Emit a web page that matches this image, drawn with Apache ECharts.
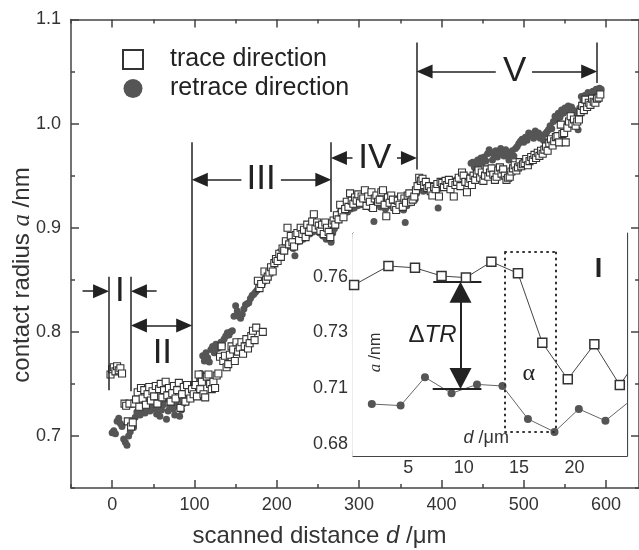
<!DOCTYPE html>
<html>
<head>
<meta charset="utf-8">
<script src="https://cdn.jsdelivr.net/npm/echarts@6/dist/echarts.min.js"></script>
<style>
  html, body { margin: 0; padding: 0; background: #fff; }
  #main { width: 639px; height: 550px; }
</style>
</head>
<body>
<div id="main"></div>
<script>
// main plot: contact radius vs scanned distance, [d (um), a (nm)]
var traceMain = [
  [-2,0.759],[0,0.764],[2,0.766],[4,0.762],[6,0.767],[8,0.763],[10,0.765],[12,0.760],
  [15,0.731],[17,0.729],[19,0.714],[21,0.731],[23,0.709],[25,0.713],[27,0.731],
  [29,0.735],[31,0.742],[33,0.728],[35,0.746],[37,0.736],[39,0.744],[41,0.730],[43,0.740],[45,0.747],[47,0.734],
  [49,0.743],[51,0.738],[53,0.748],[55,0.731],[57,0.745],[59,0.750],[61,0.737],[63,0.744],[65,0.752],[67,0.739],
  [69,0.746],[71,0.733],[73,0.741],[75,0.748],[77,0.736],[79,0.744],[81,0.751],[83,0.727],[85,0.740],[87,0.747],
  [89,0.733],[91,0.749],[93,0.742],[95,0.736],[97,0.745],[99,0.740],
  [101,0.749],[103,0.738],[105,0.759],[107,0.745],[109,0.752],[111,0.740],[113,0.737],[115,0.757],[117,0.759],
  [119,0.750],[121,0.745],[123,0.752],[125,0.746],[127,0.758],[129,0.760],[131,0.776],[133,0.786],[135,0.772],
  [137,0.777],[139,0.766],[141,0.769],[143,0.778],[145,0.786],[147,0.783],[149,0.772],[151,0.790],[153,0.781],
  [155,0.785],[157,0.790],[159,0.779],[161,0.786],[163,0.793],[165,0.784],[167,0.789],[169,0.796],[171,0.801],
  [173,0.792],[175,0.804],[177,0.849],[179,0.842],[181,0.846],[183,0.800],[185,0.858],[187,0.850],[189,0.853],
  [191,0.857],[193,0.862],[195,0.858],[197,0.866],[199,0.870],[201,0.868],[203,0.875],[205,0.872],[207,0.880],
  [209,0.878],[211,0.887],[213,0.900],[215,0.884],[217,0.892],[219,0.886],[221,0.882],[223,0.893],[225,0.895],
  [227,0.888],[229,0.900],[231,0.894],[233,0.898],[235,0.891],[237,0.903],[239,0.896],[241,0.900],[243,0.906],
  [245,0.913],[247,0.899],[249,0.905],[251,0.902],[253,0.897],[255,0.903],[257,0.894],[259,0.905],[261,0.900],
  [263,0.896],[265,0.891],[267,0.904],[269,0.907],[271,0.903],[273,0.912],[275,0.908],[277,0.922],[279,0.915],
  [281,0.910],[283,0.918],[285,0.925],[287,0.920],[289,0.933],[291,0.926],[293,0.923],[295,0.929],[297,0.926],
  [299,0.932],[301,0.924],[303,0.930],[305,0.928],[307,0.936],[309,0.921],[311,0.930],[313,0.925],[315,0.934],
  [317,0.919],[319,0.928],[321,0.931],[323,0.925],[325,0.927],[327,0.934],[329,0.936],[331,0.922],[333,0.911],
  [335,0.929],[337,0.924],[339,0.931],[341,0.927],[343,0.920],[345,0.917],[347,0.926],[349,0.922],[351,0.930],
  [353,0.920],[355,0.928],[357,0.924],[359,0.931],[361,0.933],[363,0.925],[365,0.927],[367,0.930],[369,0.936],
  [371,0.940],[373,0.948],[375,0.945],[377,0.947],[379,0.941],[381,0.944],[383,0.938],[385,0.940],[387,0.935],
  [389,0.931],[391,0.939],[393,0.937],[395,0.942],[397,0.930],[399,0.944],[401,0.943],[403,0.939],[405,0.945],
  [407,0.941],[409,0.946],[411,0.937],[413,0.943],[415,0.930],[417,0.941],[419,0.944],[421,0.948],[423,0.940],
  [425,0.953],[427,0.950],[429,0.944],[431,0.934],[433,0.943],[435,0.947],[437,0.941],[439,0.950],
  [441,0.946],[443,0.952],[445,0.955],[447,0.948],[449,0.953],[451,0.945],[453,0.950],[455,0.956],[457,0.949],
  [459,0.953],[461,0.957],[463,0.951],[465,0.946],[467,0.949],[469,0.955],[471,0.958],[473,0.952],[475,0.956],
  [477,0.950],[479,0.946],[481,0.948],[483,0.949],[485,0.954],[487,0.957],[489,0.960],[491,0.955],[493,0.958],
  [495,0.963],[497,0.959],[499,0.961],[501,0.962],[503,0.966],[505,0.960],[507,0.964],[509,0.968],[511,0.965],
  [513,0.970],[515,0.967],[517,0.972],[519,0.969],[521,0.974],[523,0.971],[525,0.975],[527,0.978],[529,0.974],
  [531,0.981],[533,0.985],[535,0.979],[537,0.983],[539,0.987],[541,0.988],[543,0.982],[545,0.999],[547,0.990],
  [549,0.991],[551,0.982],[553,0.996],[555,1.002],[557,1.007],[559,1.000],[561,1.004],[563,0.998],[565,1.002],
  [567,1.004],[569,1.011],[571,1.017],[573,1.013],[575,1.023],[577,1.016],[579,1.020],[581,1.018],[583,1.024],
  [585,1.021],[587,1.020],[589,1.024],[591,1.025],[593,1.028]
];
var retraceMain = [
  [0,0.703],[2,0.705],[4,0.702],[6,0.714],[8,0.717],[10,0.712],[12,0.709],[14,0.697],[16,0.694],[18,0.691],
  [20,0.700],[22,0.704],[24,0.712],[26,0.708],
  [28,0.718],[30,0.723],[32,0.727],[34,0.720],[36,0.725],[38,0.730],[40,0.722],[42,0.727],[44,0.733],[46,0.724],
  [48,0.729],[50,0.732],[52,0.726],[54,0.721],[56,0.728],[58,0.719],[60,0.725],[62,0.730],[64,0.735],[66,0.716],
  [68,0.724],[70,0.728],[72,0.733],[74,0.726],[76,0.720],[78,0.729],[80,0.735],[82,0.719],[84,0.725],[86,0.731],
  [88,0.737],[90,0.733],[92,0.739],[94,0.741],[96,0.737],[98,0.745],[100,0.741],
  [102,0.748],[104,0.744],[106,0.754],[108,0.760],[110,0.777],[112,0.772],[114,0.780],[116,0.775],[118,0.771],
  [120,0.783],[122,0.786],[124,0.780],[126,0.788],[128,0.784],[130,0.785],[132,0.790],[134,0.788],[136,0.793],
  [138,0.796],[140,0.799],[142,0.797],[144,0.800],[146,0.801],[148,0.815],[150,0.825],[152,0.820],[154,0.815],
  [156,0.813],[158,0.817],[160,0.822],[162,0.826],[164,0.827],[166,0.828],[168,0.832],[170,0.835],[172,0.836],
  [174,0.838],[176,0.840],[178,0.843],[180,0.844],[182,0.845],[184,0.848],[186,0.850],[188,0.853],[190,0.857],
  [192,0.859],[194,0.862],[196,0.865],[198,0.868],[200,0.869],[202,0.872],[204,0.877],[206,0.874],[208,0.881],
  [210,0.879],[212,0.885],[214,0.882],[216,0.888],[218,0.884],[220,0.880],[222,0.873],[224,0.886],[226,0.890],
  [228,0.887],[230,0.893],[232,0.889],[234,0.895],[236,0.891],[238,0.897],[240,0.894],[242,0.899],[244,0.896],
  [246,0.902],[248,0.898],[250,0.901],[252,0.895],[254,0.899],[256,0.892],[258,0.896],[260,0.889],[262,0.894],
  [264,0.890],[266,0.886],[268,0.895],[270,0.899],[272,0.905],[274,0.910],[276,0.914],[278,0.917],[280,0.913],
  [282,0.916],[284,0.919],[286,0.915],[288,0.921],[290,0.918],[292,0.922],[294,0.919],[296,0.924],[298,0.921],
  [300,0.925],[302,0.922],[304,0.927],[306,0.924],[308,0.929],[310,0.926],[312,0.922],[314,0.919],[316,0.920],
  [318,0.906],[320,0.923],[322,0.927],[324,0.924],[326,0.920],[328,0.925],[330,0.922],[332,0.918],[334,0.924],
  [336,0.921],[338,0.926],[340,0.923],[342,0.919],[344,0.924],[346,0.921],[348,0.918],[350,0.923],[352,0.920],
  [354,0.917],[356,0.905],[358,0.921],[360,0.925],[362,0.928],[364,0.924],[366,0.930],[368,0.927],[370,0.933],
  [372,0.938],[374,0.941],[376,0.937],[378,0.935],[380,0.939],[382,0.936],[384,0.941],[386,0.938],[388,0.934],
  [390,0.940],[392,0.937],[394,0.933],[396,0.919],[398,0.938],[400,0.942],[402,0.939],[404,0.944],[406,0.940],
  [408,0.946],[410,0.943],[412,0.939],[414,0.944],[416,0.941],[418,0.946],[420,0.943],[422,0.948],[424,0.945],
  [426,0.950],[428,0.946],[430,0.944],[432,0.949],[434,0.945],[436,0.962],[438,0.963],[440,0.958],
  [442,0.960],[444,0.965],[446,0.961],[448,0.967],[450,0.963],[452,0.968],[454,0.964],[456,0.971],[458,0.975],
  [460,0.972],[462,0.965],[464,0.970],[466,0.974],[468,0.968],[470,0.971],[472,0.976],[474,0.972],[476,0.969],
  [478,0.975],[480,0.970],[482,0.965],[484,0.971],[486,0.974],[488,0.969],[490,0.976],[492,0.978],[494,0.981],
  [496,0.983],[498,0.985],[500,0.982],[502,0.987],[504,0.984],[506,0.991],[508,0.988],[510,0.990],[512,0.986],
  [514,0.993],[516,0.989],[518,0.991],[520,0.986],[522,0.988],[524,0.984],[526,0.990],[528,0.992],[530,0.994],
  [532,0.998],[534,0.995],[536,1.002],[538,1.007],[540,1.004],[542,1.010],[544,1.006],[546,1.013],[548,1.010],
  [550,1.015],[552,1.012],[554,1.017],[556,1.014],[558,1.016],[560,1.013],[562,1.011],[564,1.008],[566,0.994],
  [568,1.015],[570,1.026],[572,1.022],[574,1.027],[576,1.025],[578,1.030],[580,1.028],[582,1.027],[584,1.031],
  [586,1.029],[588,1.033],[590,1.031],[592,1.034],[594,1.033]
];

// inset (region I)
var insetTrace = [[0.1,0.7513],[3.2,0.7598],[5.6,0.7590],[8.0,0.7553],[10.2,0.7546],[12.5,0.7617],
  [14.9,0.7565],[17.1,0.7254],[19.4,0.7090],[21.8,0.7247],[24.1,0.7064],[26.4,0.7230]];
var insetRetrace = [[1.7,0.6979],[4.3,0.6972],[6.5,0.7099],[8.9,0.7027],[11.2,0.7067],[13.5,0.7060],
  [15.8,0.6912],[18.2,0.6854],[20.4,0.6957],[22.8,0.6904],[25.2,0.7000]];

// ticks
var mainXMajor = [0, 100, 200, 300, 400, 500, 600];
var mainXMinor = [-50, 50, 150, 250, 350, 450, 550];
var mainYMajor = [0.7, 0.8, 0.9, 1.0, 1.1];
var mainYMinor = [0.65, 0.75, 0.85, 0.95, 1.05];
var insetXMajor = [0, 5, 10, 15, 20];
var insetXLabels = [5, 10, 15, 20];
var insetXMinor = [2.5, 7.5, 12.5, 17.5, 22.5];
var insetYMajor = [0.68, 0.705, 0.73, 0.755];
var insetYLabels = ['0.68', '0.71', '0.73', '0.76'];
var insetYMinor = [0.6925, 0.7175, 0.7425, 0.7675];

var FONT = 'Liberation Sans, Arial, sans-serif';
var SERIF = 'Liberation Serif, Times New Roman, serif';
var AXC = '#444';

function axis(grid, pos, min, max, opt) {
  return {
    type: 'value', gridIndex: grid, position: pos, min: min, max: max,
    axisLine: { show: !!opt.line, onZero: false, lineStyle: { color: AXC, width: opt.lw || 1.5 } },
    axisTick: { show: !!opt.ticks, inside: true, length: opt.len || 8, customValues: opt.ticks,
      lineStyle: { color: AXC, width: opt.lw || 1.5 } },
    axisLabel: { show: !!opt.labels, customValues: opt.labels, margin: opt.margin || 8,
      fontSize: 18, color: '#333', fontFamily: FONT, formatter: opt.fmt },
    splitLine: { show: false }
  };
}

var chart = echarts.init(document.getElementById('main'));

// annotation segment; arrow heads are centred on their end point,
// so the end is pulled back by half a head (back, in data units) to put the tip on it
function seg(x1, y1, x2, y2, a1, a2, size, back, style) {
  size = size || [13, 15];
  back = back || 0;
  var dx = x2 === x1 ? 0 : (x2 > x1 ? 1 : -1);
  var dy = y2 === y1 ? 0 : (y2 > y1 ? 1 : -1);
  var p1 = a1 ? [x1 + dx * back, y1 + dy * back] : [x1, y1];
  var p2 = a2 ? [x2 - dx * back, y2 - dy * back] : [x2, y2];
  var s = { coord: p1, symbol: a1 ? 'triangle' : 'none', symbolSize: size };
  if (style) s.lineStyle = style;
  return [s, { coord: p2, symbol: a2 ? 'triangle' : 'none', symbolSize: size }];
}
function tag(x, y, text, style) {
  return { coord: [x, y], name: text, label: style || {} };
}
var dotted = { type: [2.5, 3.5], color: '#333', width: 2 };

chart.setOption({
  animation: false,
  backgroundColor: '#fff',
  grid: [
    { left: 71, top: 19.5, width: 570, height: 468.5 },
    { left: 353, top: 233, width: 274, height: 223, show: true, backgroundColor: '#fff', borderWidth: 0, z: 3 }
  ],
  xAxis: [
    axis(0, 'bottom', -50, 640, { line: true, ticks: mainXMajor, labels: mainXMajor, len: 8, margin: 8 }),
    axis(0, 'bottom', -50, 640, { ticks: mainXMinor, len: 4 }),
    axis(0, 'top', -50, 640, { line: true, ticks: mainXMajor, len: 8 }),
    axis(0, 'top', -50, 640, { ticks: mainXMinor, len: 4 }),
    axis(1, 'bottom', 0, 24.75, { line: true, lw: 1.2, ticks: insetXMajor, labels: insetXLabels, len: 5, margin: 3 }),
    axis(1, 'bottom', 0, 24.75, { lw: 1.2, ticks: insetXMinor, len: 3 }),
    axis(1, 'top', 0, 24.75, { line: true, lw: 1.2, ticks: insetXMajor, len: 5 }),
    axis(1, 'top', 0, 24.75, { lw: 1.2, ticks: insetXMinor, len: 3 })
  ],
  yAxis: [
    axis(0, 'left', 0.65, 1.1, { line: true, ticks: mainYMajor, labels: mainYMajor, len: 8, margin: 10,
      fmt: function (v) { return v.toFixed(1); } }),
    axis(0, 'left', 0.65, 1.1, { ticks: mainYMinor, len: 4 }),
    axis(0, 'right', 0.65, 1.1, { line: true, ticks: mainYMajor, len: 8 }),
    axis(0, 'right', 0.65, 1.1, { ticks: mainYMinor, len: 4 }),
    axis(1, 'left', 0.6746, 0.7746, { line: true, lw: 1.2, ticks: insetYMajor, labels: insetYMajor, len: 5, margin: 5,
      fmt: function (v) { return insetYLabels[insetYMajor.indexOf(+v.toFixed(4))] || ''; } }),
    axis(1, 'left', 0.6746, 0.7746, { lw: 1.2, ticks: insetYMinor, len: 3 }),
    axis(1, 'right', 0.6746, 0.7746, { line: true, lw: 1.2, ticks: insetYMajor, len: 5 }),
    axis(1, 'right', 0.6746, 0.7746, { lw: 1.2, ticks: insetYMinor, len: 3 })
  ],
  legend: {
    orient: 'vertical', left: 117, top: 42, itemWidth: 20, itemHeight: 19, itemGap: 4,
    data: ['trace direction', 'retrace direction'],
    textStyle: { fontSize: 25, color: '#222', fontFamily: FONT, lineHeight: 25, padding: [0, 0, 0, 22] }
  },
  series: [
    {
      name: 'retrace direction', type: 'scatter', xAxisIndex: 0, yAxisIndex: 0,
      symbol: 'circle', symbolSize: 7, itemStyle: { color: '#555', opacity: 1 },
      data: retraceMain, z: 2
    },
    {
      name: 'trace direction', type: 'scatter', xAxisIndex: 0, yAxisIndex: 0,
      symbol: 'rect', symbolSize: 7,
      itemStyle: { color: '#fff', borderColor: '#333', borderWidth: 1.1, opacity: 1 },
      data: traceMain, z: 2,
      markLine: {
        silent: true, animation: false, symbol: ['none', 'none'],
        label: { show: false },
        lineStyle: { type: 'solid', color: '#222', width: 1.5 },
        data: [
          seg(-4, 0.744, -4, 0.853), seg(23, 0.743, 23, 0.853),
          seg(97, 0.748, 97, 0.982), seg(266, 0.915, 266, 0.982),
          seg(370, 0.956, 370, 1.078), seg(589, 1.039, 589, 1.078),
          seg(-36, 0.839, -4, 0.839, false, true, [14, 16], 9.5),
          seg(54, 0.839, 23, 0.839, false, true, [14, 16], 9.5),
          seg(23, 0.806, 97, 0.806, true, true, [14, 16], 9.5),
          seg(157, 0.946, 97, 0.946, false, true, [14, 16], 9.5),
          seg(205, 0.946, 266, 0.946, false, true, [14, 16], 9.5),
          seg(292, 0.967, 266, 0.967, false, true, [14, 16], 9.5),
          seg(346, 0.967, 370, 0.967, false, true, [14, 16], 9.5),
          seg(466, 1.05, 370, 1.05, false, true, [14, 16], 9.5),
          seg(510, 1.05, 589, 1.05, false, true, [14, 16], 9.5)
        ]
      },
      markPoint: {
        silent: true, animation: false, symbol: 'rect', symbolSize: 1,
        itemStyle: { color: 'rgba(0,0,0,0)' },
        label: { show: true, position: 'inside', formatter: '{b}', fontSize: 35, color: '#222', fontFamily: FONT },
        data: [
          tag(9.5, 0.839, 'I'), tag(61, 0.779, 'II'), tag(181, 0.946, 'III'),
          tag(319, 0.967, 'IV'), tag(489, 1.05, 'V')
        ]
      }
    },
    {
      name: 'inset trace', type: 'line', xAxisIndex: 4, yAxisIndex: 4, z: 5,
      symbol: 'rect', symbolSize: 9, showAllSymbol: true,
      itemStyle: { color: '#fff', borderColor: '#333', borderWidth: 1.5 },
      lineStyle: { color: '#444', width: 1 },
      data: insetTrace,
      markLine: {
        silent: true, animation: false, symbol: ['none', 'none'],
        label: { show: false },
        lineStyle: { type: 'solid', color: '#222', width: 2 },
        data: [
          seg(7.25, 0.7527, 11.6, 0.7527), seg(7.2, 0.7046, 11.6, 0.7046),
          seg(9.71, 0.7527, 9.71, 0.7046, true, true, [22, 21], 0.0047)
        ]
      },
      markPoint: {
        silent: true, animation: false, symbol: 'rect', symbolSize: 1,
        itemStyle: { color: 'rgba(0,0,0,0)' },
        label: { show: true, position: 'inside', formatter: '{b}', color: '#222', fontFamily: FONT },
        data: [
          tag(22.18, 0.7582, 'I', { fontSize: 27, fontWeight: 'bold' }),
          tag(15.88, 0.7114, 'α', { fontSize: 24, fontFamily: SERIF }),
          tag(7.18, 0.7286, 'ΔTR', { fontSize: 24, formatter: '{n|Δ}{i|TR}',
            rich: { n: { fontSize: 24, color: '#222', fontFamily: FONT },
                    i: { fontSize: 24, color: '#222', fontFamily: FONT, fontStyle: 'italic' } } }),
          tag(2.08, 0.7210, 'a /nm', { fontSize: 16, rotate: 90, formatter: '{i|a}{n| /nm}',
            rich: { n: { fontSize: 16, color: '#333', fontFamily: FONT },
                    i: { fontSize: 17, color: '#333', fontFamily: SERIF, fontStyle: 'italic' } } }),
          tag(12.03, 0.6825, 'd /μm', { fontSize: 18, formatter: '{i|d}{n| /μm}',
            rich: { n: { fontSize: 18, color: '#333', fontFamily: FONT },
                    i: { fontSize: 18, color: '#333', fontFamily: FONT, fontStyle: 'italic' } } })
        ]
      }
    },
    {
      name: 'inset retrace', type: 'line', xAxisIndex: 4, yAxisIndex: 4, z: 4,
      symbol: 'circle', symbolSize: 8, showAllSymbol: true,
      itemStyle: { color: '#555' },
      lineStyle: { color: '#666', width: 1 },
      data: insetRetrace,
      // dotted box marking the transition alpha
      markLine: {
        silent: true, animation: false, symbol: ['none', 'none'],
        label: { show: false },
        lineStyle: dotted,
        data: [
          seg(13.67, 0.7662, 18.27, 0.7662), seg(13.67, 0.6855, 18.27, 0.6855),
          seg(13.67, 0.7662, 13.67, 0.6855), seg(18.27, 0.7662, 18.27, 0.6855)
        ]
      }
    }
  ],
  graphic: [
    {
      type: 'text', left: 'center', top: 524,
      style: {
        text: '{n|scanned distance }{i|d}{n| /μm}',
        rich: {
          n: { fontSize: 24, fontFamily: FONT, fill: '#333' },
          i: { fontSize: 24, fontFamily: FONT, fontStyle: 'italic', fill: '#333' }
        }
      }
    },
    {
      type: 'text', x: 22.5, y: 275, rotation: Math.PI / 2,
      style: {
        text: '{n|contact radius }{i|a}{n| /nm}', align: 'center', verticalAlign: 'middle',
        rich: {
          n: { fontSize: 24, fontFamily: FONT, fill: '#333' },
          i: { fontSize: 25, fontFamily: SERIF, fontStyle: 'italic', fill: '#333' }
        }
      }
    }
  ]
});
</script>
</body>
</html>
